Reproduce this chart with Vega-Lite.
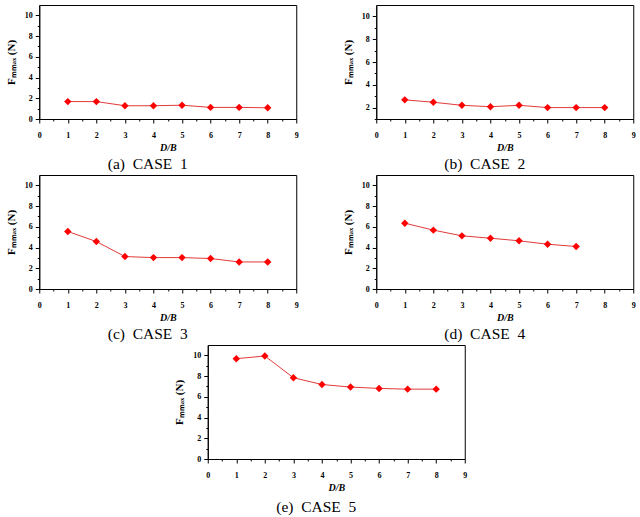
{
  "$schema": "https://vega.github.io/schema/vega-lite/v6.json",
  "padding": {"left": 4, "top": 4, "right": 0, "bottom": 0},
  "background": "white",
  "config": {
    "font": "Liberation Serif, Times New Roman, serif",
    "view": {"stroke": "#000", "strokeWidth": 1},
    "axis": {
      "grid": false,
      "domainColor": "#000",
      "tickColor": "#000",
      "labelColor": "#000",
      "labelFont": "Liberation Serif, Times New Roman, serif",
      "labelFontWeight": "bold",
      "labelFontSize": 8,
      "labelOverlap": false,
      "labelFlush": false,
      "titleFont": "Liberation Serif, Times New Roman, serif",
      "titleFontWeight": "bold",
      "titleColor": "#000"
    },
    "axisX": {"labelPadding": 8, "titlePadding": 3, "format": "d"},
    "axisY": {"labelPadding": 3, "titlePadding": 8},
    "title": {"orient": "bottom", "frame": "bounds", "dx": -4, "font": "Liberation Serif, Times New Roman, serif", "fontSize": 15.5, "fontWeight": "normal", "color": "#000", "offset": 5}
  },
  "datasets": {
    "forces": [
      {"case": 1, "db": 1, "f": 1.68}, {"case": 1, "db": 2, "f": 1.68}, {"case": 1, "db": 3, "f": 1.28}, {"case": 1, "db": 4, "f": 1.28},
      {"case": 1, "db": 5, "f": 1.33}, {"case": 1, "db": 6, "f": 1.12}, {"case": 1, "db": 7, "f": 1.12}, {"case": 1, "db": 8, "f": 1.08},
      {"case": 2, "db": 1, "f": 2.68}, {"case": 2, "db": 2, "f": 2.47}, {"case": 2, "db": 3, "f": 2.2}, {"case": 2, "db": 4, "f": 2.08},
      {"case": 2, "db": 5, "f": 2.2}, {"case": 2, "db": 6, "f": 2.0}, {"case": 2, "db": 7, "f": 2.0}, {"case": 2, "db": 8, "f": 2.0},
      {"case": 3, "db": 1, "f": 5.55}, {"case": 3, "db": 2, "f": 4.58}, {"case": 3, "db": 3, "f": 3.13}, {"case": 3, "db": 4, "f": 3.03},
      {"case": 3, "db": 5, "f": 3.03}, {"case": 3, "db": 6, "f": 2.94}, {"case": 3, "db": 7, "f": 2.61}, {"case": 3, "db": 8, "f": 2.61},
      {"case": 4, "db": 1, "f": 6.35}, {"case": 4, "db": 2, "f": 5.68}, {"case": 4, "db": 3, "f": 5.13}, {"case": 4, "db": 4, "f": 4.9},
      {"case": 4, "db": 5, "f": 4.65}, {"case": 4, "db": 6, "f": 4.32}, {"case": 4, "db": 7, "f": 4.1},
      {"case": 5, "db": 1, "f": 9.68}, {"case": 5, "db": 2, "f": 9.94}, {"case": 5, "db": 3, "f": 7.84}, {"case": 5, "db": 4, "f": 7.19},
      {"case": 5, "db": 5, "f": 6.94}, {"case": 5, "db": 6, "f": 6.81}, {"case": 5, "db": 7, "f": 6.74}, {"case": 5, "db": 8, "f": 6.74}
    ]
  },
  "spacing": 1,
  "center": true,
  "vconcat": [
    {
      "spacing": 42,
      "hconcat": [
        {
          "width": 257, "height": 114,
          "title": "(a)\u00a0\u00a0CASE\u00a0\u00a01",
          "data": {"name": "forces"},
          "transform": [{"filter": "datum.case === 1"}],
          "encoding": {
            "x": {"field": "db", "type": "quantitative", "scale": {"domain": [0, 9], "nice": false},
              "axis": {"values": [0, 0.5, 1, 1.5, 2, 2.5, 3, 3.5, 4, 4.5, 5, 5.5, 6, 6.5, 7, 7.5, 8, 8.5, 9],
                "labelExpr": "datum.value % 1 === 0 ? datum.label : ''",
                "tickSize": {"condition": {"test": "datum.value % 1 !== 0", "value": 2}, "value": 4},
                "title": "D/B", "titleFontStyle": "italic", "titleFontSize": 10}},
            "y": {"field": "f", "type": "quantitative", "scale": {"domain": [0, 11], "nice": false},
              "axis": {"values": [0, 1, 2, 3, 4, 5, 6, 7, 8, 9, 10],
                "labelExpr": "datum.value % 2 === 0 ? datum.label : ''",
                "tickSize": {"condition": {"test": "datum.value % 2 !== 0", "value": 2}, "value": 4},
                "title": "Fₘₘₐₓ (N)", "titleFontSize": 11}}
          },
          "layer": [
            {"mark": {"type": "line", "color": "#e23a3a", "strokeWidth": 1}},
            {"mark": {"type": "point", "shape": "diamond", "filled": true, "color": "#ff0000", "opacity": 1, "size": 55}},
            {"data": {"values": [{"label": "CASE 1"}]},
              "mark": {"type": "text", "align": "right", "baseline": "middle", "fontWeight": "bold", "fontSize": 8.5, "color": "#000"},
              "encoding": {"x": {"datum": 8.7}, "y": {"datum": 9.5}, "text": {"field": "label"}}}
          ]
        },
        {
          "width": 257, "height": 114,
          "title": "(b)\u00a0\u00a0CASE\u00a0\u00a02",
          "data": {"name": "forces"},
          "transform": [{"filter": "datum.case === 2"}],
          "encoding": {
            "x": {"field": "db", "type": "quantitative", "scale": {"domain": [0, 9], "nice": false},
              "axis": {"values": [0, 0.5, 1, 1.5, 2, 2.5, 3, 3.5, 4, 4.5, 5, 5.5, 6, 6.5, 7, 7.5, 8, 8.5, 9],
                "labelExpr": "datum.value % 1 === 0 ? datum.label : ''",
                "tickSize": {"condition": {"test": "datum.value % 1 !== 0", "value": 2}, "value": 4},
                "title": "D/B", "titleFontStyle": "italic", "titleFontSize": 10}},
            "y": {"field": "f", "type": "quantitative", "scale": {"domain": [1, 11], "nice": false, "zero": false},
              "axis": {"values": [1, 2, 3, 4, 5, 6, 7, 8, 9, 10],
                "labelExpr": "datum.value % 2 === 0 ? datum.label : ''",
                "tickSize": {"condition": {"test": "datum.value % 2 !== 0", "value": 2}, "value": 4},
                "title": "Fₘₘₐₓ (N)", "titleFontSize": 11}}
          },
          "layer": [
            {"mark": {"type": "line", "color": "#e23a3a", "strokeWidth": 1}},
            {"mark": {"type": "point", "shape": "diamond", "filled": true, "color": "#ff0000", "opacity": 1, "size": 55}},
            {"data": {"values": [{"label": "CASE 2"}]},
              "mark": {"type": "text", "align": "right", "baseline": "middle", "fontWeight": "bold", "fontSize": 8.5, "color": "#000"},
              "encoding": {"x": {"datum": 8.7}, "y": {"datum": 9.6}, "text": {"field": "label"}}}
          ]
        }
      ]
    },
    {
      "spacing": 42,
      "hconcat": [
        {
          "width": 257, "height": 114,
          "title": "(c)\u00a0\u00a0CASE\u00a0\u00a03",
          "data": {"name": "forces"},
          "transform": [{"filter": "datum.case === 3"}],
          "encoding": {
            "x": {"field": "db", "type": "quantitative", "scale": {"domain": [0, 9], "nice": false},
              "axis": {"values": [0, 0.5, 1, 1.5, 2, 2.5, 3, 3.5, 4, 4.5, 5, 5.5, 6, 6.5, 7, 7.5, 8, 8.5, 9],
                "labelExpr": "datum.value % 1 === 0 ? datum.label : ''",
                "tickSize": {"condition": {"test": "datum.value % 1 !== 0", "value": 2}, "value": 4},
                "title": "D/B", "titleFontStyle": "italic", "titleFontSize": 10}},
            "y": {"field": "f", "type": "quantitative", "scale": {"domain": [0, 11], "nice": false},
              "axis": {"values": [0, 1, 2, 3, 4, 5, 6, 7, 8, 9, 10],
                "labelExpr": "datum.value % 2 === 0 ? datum.label : ''",
                "tickSize": {"condition": {"test": "datum.value % 2 !== 0", "value": 2}, "value": 4},
                "title": "Fₘₘₐₓ (N)", "titleFontSize": 11}}
          },
          "layer": [
            {"mark": {"type": "line", "color": "#e23a3a", "strokeWidth": 1}},
            {"mark": {"type": "point", "shape": "diamond", "filled": true, "color": "#ff0000", "opacity": 1, "size": 55}},
            {"data": {"values": [{"label": "CASE 3"}]},
              "mark": {"type": "text", "align": "right", "baseline": "middle", "fontWeight": "bold", "fontSize": 8.5, "color": "#000"},
              "encoding": {"x": {"datum": 8.7}, "y": {"datum": 9.5}, "text": {"field": "label"}}}
          ]
        },
        {
          "width": 257, "height": 114,
          "title": "(d)\u00a0\u00a0CASE\u00a0\u00a04",
          "data": {"name": "forces"},
          "transform": [{"filter": "datum.case === 4"}],
          "encoding": {
            "x": {"field": "db", "type": "quantitative", "scale": {"domain": [0, 9], "nice": false},
              "axis": {"values": [0, 0.5, 1, 1.5, 2, 2.5, 3, 3.5, 4, 4.5, 5, 5.5, 6, 6.5, 7, 7.5, 8, 8.5, 9],
                "labelExpr": "datum.value % 1 === 0 ? datum.label : ''",
                "tickSize": {"condition": {"test": "datum.value % 1 !== 0", "value": 2}, "value": 4},
                "title": "D/B", "titleFontStyle": "italic", "titleFontSize": 10}},
            "y": {"field": "f", "type": "quantitative", "scale": {"domain": [0, 11], "nice": false},
              "axis": {"values": [0, 1, 2, 3, 4, 5, 6, 7, 8, 9, 10],
                "labelExpr": "datum.value % 2 === 0 ? datum.label : ''",
                "tickSize": {"condition": {"test": "datum.value % 2 !== 0", "value": 2}, "value": 4},
                "title": "Fₘₘₐₓ (N)", "titleFontSize": 11}}
          },
          "layer": [
            {"mark": {"type": "line", "color": "#e23a3a", "strokeWidth": 1}},
            {"mark": {"type": "point", "shape": "diamond", "filled": true, "color": "#ff0000", "opacity": 1, "size": 55}},
            {"data": {"values": [{"label": "CASE 4"}]},
              "mark": {"type": "text", "align": "right", "baseline": "middle", "fontWeight": "bold", "fontSize": 8.5, "color": "#000"},
              "encoding": {"x": {"datum": 8.7}, "y": {"datum": 9.5}, "text": {"field": "label"}}}
          ]
        }
      ]
    },
    {
      "width": 257, "height": 114,
      "title": {"text": "(e)\u00a0\u00a0CASE\u00a0\u00a05", "offset": 8},
      "data": {"name": "forces"},
      "transform": [{"filter": "datum.case === 5"}],
      "encoding": {
        "x": {"field": "db", "type": "quantitative", "scale": {"domain": [0, 9], "nice": false},
          "axis": {"values": [0, 0.5, 1, 1.5, 2, 2.5, 3, 3.5, 4, 4.5, 5, 5.5, 6, 6.5, 7, 7.5, 8, 8.5, 9],
            "labelExpr": "datum.value % 1 === 0 ? datum.label : ''",
            "tickSize": {"condition": {"test": "datum.value % 1 !== 0", "value": 2}, "value": 4},
            "title": "D/B", "titleFontStyle": "italic", "titleFontSize": 10}},
        "y": {"field": "f", "type": "quantitative", "scale": {"domain": [0, 11], "nice": false},
          "axis": {"values": [0, 1, 2, 3, 4, 5, 6, 7, 8, 9, 10],
            "labelExpr": "datum.value % 2 === 0 ? datum.label : ''",
            "tickSize": {"condition": {"test": "datum.value % 2 !== 0", "value": 2}, "value": 4},
            "title": "Fₘₘₐₓ (N)", "titleFontSize": 11}}
      },
      "layer": [
        {"mark": {"type": "line", "color": "#e23a3a", "strokeWidth": 1}},
        {"mark": {"type": "point", "shape": "diamond", "filled": true, "color": "#ff0000", "opacity": 1, "size": 55}},
        {"data": {"values": [{"label": "CASE 5"}]},
          "mark": {"type": "text", "align": "right", "baseline": "middle", "fontWeight": "bold", "fontSize": 8.5, "color": "#000"},
          "encoding": {"x": {"datum": 8.7}, "y": {"datum": 9.4}, "text": {"field": "label"}}}
      ]
    }
  ]
}
